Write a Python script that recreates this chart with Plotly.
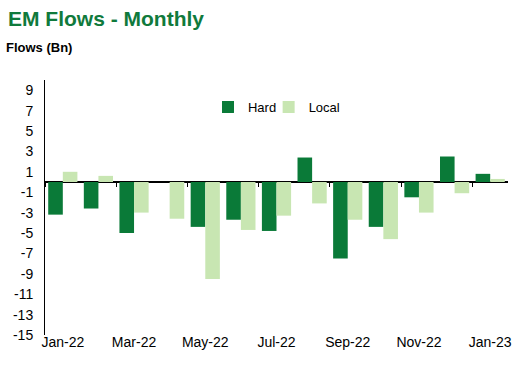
import plotly.graph_objects as go

months = ["Jan-22", "Feb-22", "Mar-22", "Apr-22", "May-22", "Jun-22", "Jul-22",
          "Aug-22", "Sep-22", "Oct-22", "Nov-22", "Dec-22", "Jan-23"]
hard = [-3.2, -2.6, -5.0, 0.0, -4.4, -3.7, -4.8, 2.4, -7.5, -4.4, -1.5, 2.5, 0.8]
local = [1.0, 0.6, -3.0, -3.6, -9.5, -4.7, -3.3, -2.1, -3.7, -5.6, -3.0, -1.1, 0.3]
y_ticks = list(range(9, -16, -2))

FONT = "Liberation Sans, Arial, sans-serif"
HARD_C = "#0a7a38"
LOCAL_C = "#c8e6b2"

fig = go.Figure()
fig.add_trace(go.Bar(x=months, y=hard, name="Hard", legend="legend", showlegend=True,
                     marker=dict(color=HARD_C, line=dict(width=0))))
fig.add_trace(go.Bar(x=months, y=local, name="Local", legend="legend2", showlegend=True,
                     marker=dict(color=LOCAL_C, line=dict(width=0))))

ymin, ymax = -15, 10
zero_pos = (0 - ymin) / (ymax - ymin)

leg_common = dict(orientation="h", y=0.894, xanchor="left", yanchor="middle",
                  font=dict(size=13), bgcolor="rgba(0,0,0,0)", itemwidth=30)

fig.update_layout(
    width=525, height=367,
    showlegend=True,
    margin=dict(l=45, r=17, t=80, b=32, autoexpand=False),
    paper_bgcolor="white", plot_bgcolor="white",
    barmode="group", bargap=0.18, bargroupgap=0,
    font=dict(family=FONT, size=14, color="black"),
    title=dict(text="<b>EM Flows - Monthly</b>", xref="container", yref="container",
               x=8/525, xanchor="left", y=1 - 11/367, yanchor="top",
               font=dict(family=FONT, size=21, color="#107a3c")),
    annotations=[dict(text="<b>Flows (Bn)</b>", xref="paper", yref="paper",
                      x=-41/463, y=1 + 33/255, xanchor="left", yanchor="middle",
                      showarrow=False, font=dict(size=13, color="black"))],
    legend=dict(x=0.352, **leg_common),
    legend2=dict(x=0.483, **leg_common),
    xaxis=dict(type="category", range=[-0.5, 12.5], anchor="free", position=zero_pos,
               automargin=False, tickangle=0,
               showgrid=False, showline=False, zeroline=False,
               ticks="outside", ticklen=4, tickcolor="black", tickwidth=1,
               tickson="boundaries", dtick=2, tick0=0,
               ticklabelstandoff=150, tickfont=dict(size=14)),
    yaxis=dict(range=[ymin, ymax], tickvals=y_ticks, ticktext=[str(v) for v in y_ticks],
               automargin=False,
               showgrid=False, showline=True, linecolor="black", linewidth=1,
               zeroline=True, zerolinecolor="black", zerolinewidth=1.5,
               ticks="", ticklabelstandoff=8, tickfont=dict(size=14)),
)

fig.write_html("out.html", config={"displayModeBar": False},
               post_script="document.body.style.margin='0';")
